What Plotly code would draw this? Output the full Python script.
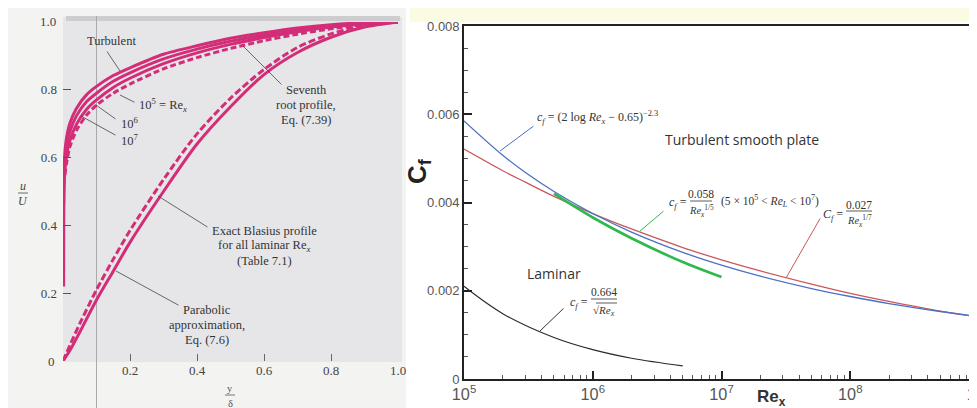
import math
import plotly.graph_objects as go

W, H = 977, 408

# ---------------- Left panel data ----------------
x_turb = [0.002, 0.003, 0.006, 0.01, 0.02, 0.04, 0.07, 0.1, 0.15, 0.2, 0.3, 0.4, 0.5, 0.6, 0.7, 0.8, 0.9, 1.0]
u_re7 = [0.52, 0.56, 0.62, 0.655, 0.70, 0.745, 0.785, 0.81, 0.842, 0.865, 0.905, 0.930, 0.952, 0.968, 0.982, 0.992, 0.998, 1.0]
u_re6 = [0.46, 0.53, 0.595, 0.63, 0.675, 0.723, 0.765, 0.79, 0.825, 0.850, 0.891, 0.920, 0.943, 0.961, 0.976, 0.988, 0.996, 1.0]
u_re5 = [0.22, 0.50, 0.565, 0.60, 0.648, 0.698, 0.742, 0.77, 0.807, 0.834, 0.877, 0.909, 0.934, 0.954, 0.971, 0.985, 0.995, 1.0]
x_7th = [0.006, 0.01, 0.02, 0.04, 0.07, 0.1, 0.15, 0.2, 0.3, 0.4, 0.5, 0.6, 0.7, 0.8, 0.9, 1.0]
u_7th = [0.55, 0.58, 0.63, 0.68, 0.725, 0.755, 0.79, 0.817, 0.862, 0.895, 0.922, 0.945, 0.964, 0.980, 0.992, 1.0]

x_lam = [0.0, 0.02, 0.05, 0.1, 0.15, 0.2, 0.3, 0.4, 0.5, 0.6, 0.7, 0.8, 0.9, 1.0]
u_blasius = [0.0, 0.03, 0.085, 0.18, 0.265, 0.35, 0.50, 0.64, 0.75, 0.845, 0.91, 0.955, 0.985, 1.0]
u_parabolic = [0.0, 0.045, 0.11, 0.21, 0.30, 0.385, 0.535, 0.67, 0.775, 0.86, 0.925, 0.965, 0.99, 1.0]

left_ytick_vals = [0.2, 0.4, 0.6, 0.8]
left_xtick_vals = [0.2, 0.4, 0.6, 0.8]

# ---------------- Right panel data ----------------
re_turb = [1e5, 2e5, 3e5, 5e5, 1e6, 2e6, 5e6, 1e7, 2e7, 5e7, 1e8, 2e8, 5e8, 1e9]
cf_log_law = [0.00585, 0.00507, 0.00468, 0.00425, 0.00375, 0.00333, 0.00287, 0.00258, 0.00233, 0.00205, 0.00187, 0.00171, 0.00153, 0.00141]
cf_seventh = [0.00521, 0.00472, 0.00446, 0.00414, 0.00375, 0.00340, 0.00298, 0.00270, 0.00245, 0.00215, 0.00194, 0.00176, 0.00154, 0.00140]
re_fifth = [5e5, 1e6, 2e6, 5e6, 1e7]
cf_fifth = [0.00420, 0.00366, 0.00319, 0.00265, 0.00231]
re_lam = [1e5, 2e5, 5e5, 1e6, 2e6, 5e6]
cf_lam = [0.00210, 0.00148, 0.00094, 0.000664, 0.00047, 0.000297]

right_ytick_vals = [0, 0.002, 0.004, 0.006, 0.008]
right_ytick_text = ["0", "0.002", "0.004", "0.006", "0.008"]

MAG = "#d42d78"
SERIF = "Liberation Serif"
SANS = "Liberation Sans"
SP = "&nbsp;"


def P(x, y):
    return x / W, 1 - y / H


# pixel -> data helpers for leader-line anchors
def LX(px):
    return (px - 55) / 335.0


def LY(py):
    return (353 - py) / 339.0


def RX(px):
    return 5 + (px - 456) / 128.75


def RY(py):
    return (371 - py) / 44125.0


fig = go.Figure()

# left traces
for u in [u_re7, u_re6, u_re5]:
    fig.add_trace(go.Scatter(x=x_turb, y=u, mode="lines", xaxis="x", yaxis="y",
                             line=dict(color=MAG, width=3, shape="spline", smoothing=0.6),
                             hoverinfo="skip", showlegend=False))
fig.add_trace(go.Scatter(x=x_7th, y=u_7th, mode="lines", xaxis="x", yaxis="y",
                         line=dict(color=MAG, width=3, dash="6px,3px", shape="spline", smoothing=0.6),
                         hoverinfo="skip", showlegend=False))
fig.add_trace(go.Scatter(x=x_lam, y=u_blasius, mode="lines", xaxis="x", yaxis="y",
                         line=dict(color=MAG, width=3, shape="spline", smoothing=0.8),
                         hoverinfo="skip", showlegend=False))
fig.add_trace(go.Scatter(x=x_lam, y=u_parabolic, mode="lines", xaxis="x", yaxis="y",
                         line=dict(color=MAG, width=3, dash="7px,3px", shape="spline", smoothing=0.8),
                         hoverinfo="skip", showlegend=False))

# right traces
fig.add_trace(go.Scatter(x=re_turb, y=cf_seventh, mode="lines", xaxis="x2", yaxis="y2",
                         line=dict(color="#c9585c", width=1.3, shape="spline"), hoverinfo="skip", showlegend=False))
fig.add_trace(go.Scatter(x=re_turb, y=cf_log_law, mode="lines", xaxis="x2", yaxis="y2",
                         line=dict(color="#4a70c4", width=1.3, shape="spline"), hoverinfo="skip", showlegend=False))
fig.add_trace(go.Scatter(x=re_fifth, y=cf_fifth, mode="lines", xaxis="x2", yaxis="y2",
                         line=dict(color="#2fb84c", width=2.6, shape="spline"), hoverinfo="skip", showlegend=False))
fig.add_trace(go.Scatter(x=re_lam, y=cf_lam, mode="lines", xaxis="x2", yaxis="y2",
                         line=dict(color="#2a2a2a", width=1.2, shape="spline"), hoverinfo="skip", showlegend=False))

shapes = []
# left scan background
x0, y0 = P(0, 404)
x1, y1 = P(398, 0)
shapes.append(dict(type="rect", xref="paper", yref="paper", x0=x0, x1=x1, y0=y0, y1=y1,
                   fillcolor="#f3f3f1", line=dict(width=0), layer="below"))
x0, y0 = P(55, 354)
x1, y1 = P(394, 9)
shapes.append(dict(type="rect", xref="paper", yref="paper", x0=x0, x1=x1, y0=y0, y1=y1,
                   fillcolor="#e6e6e9", line=dict(width=0), layer="below"))
x0, y0 = P(58, 13)
x1, y1 = P(392, 8)
shapes.append(dict(type="rect", xref="paper", yref="paper", x0=x0, x1=x1, y0=y0, y1=y1,
                   fillcolor="#cdcdd0", line=dict(width=0), layer="below"))
# faint scan line at x = 0.1
shapes.append(dict(type="line", xref="x", yref="paper", x0=0.1, x1=0.1, y0=P(0, 402)[1], y1=P(0, 8)[1],
                   line=dict(color="#aaaaae", width=1), layer="below"))
# bottom scan edge
shapes.append(dict(type="line", xref="paper", yref="paper", x0=P(8, 0)[0], x1=P(396, 0)[0],
                   y0=P(0, 405)[1], y1=P(0, 405)[1], line=dict(color="#c8c8a8", width=2), layer="below"))
# faint yellow band at top of right picture
x0, y0 = P(402, 14)
x1, y1 = P(977, 0)
shapes.append(dict(type="rect", xref="paper", yref="paper", x0=x0, x1=x1, y0=y0, y1=y1,
                   fillcolor="#fbfbe4", line=dict(width=0), layer="below"))


def hbar(xa, xb, y, color="#333", width=0.8):
    a = P(xa, y)
    b = P(xb, y)
    shapes.append(dict(type="line", xref="paper", yref="paper", x0=a[0], x1=b[0], y0=a[1], y1=b[1],
                       line=dict(color=color, width=width)))


# fraction bars
hbar(10, 20, 185, "#444", 0.8)      # u/U
hbar(217, 227, 387, "#555", 0.8)    # y/delta
hbar(682, 704, 193)                 # 0.058 / Re^1/5
hbar(838, 864, 203)                 # 0.027 / Re^1/7
hbar(583, 609, 291)                 # 0.664 / sqrt(Re)
hbar(588, 609, 295)                 # sqrt overline

ann = []


def txt(px, py, text, size=13, family=SERIF, color="#333", xanchor="center", yanchor="middle", angle=0):
    x, y = P(px, py)
    ann.append(dict(xref="paper", yref="paper", x=x, y=y, text=text, showarrow=False,
                    font=dict(family=family, size=size, color=color), xanchor=xanchor, yanchor=yanchor,
                    textangle=angle, borderpad=0))


def leader(xref, yref, hx, hy, tx, ty, color="#444", width=0.8):
    ann.append(dict(xref=xref, yref=yref, axref=xref, ayref=yref, x=hx, y=hy, ax=tx, ay=ty,
                    text="", showarrow=True, arrowhead=0, arrowwidth=width, arrowcolor=color, standoff=0,
                    startstandoff=0))


FS = 12.5
# ----- left panel texts -----
txt(103, 33, "Turbulent", FS)
leader("x", "y", LX(112), LY(63), LX(98), LY(42))
txt(130, 97, "10<sup>5</sup> = Re<sub><i>x</i></sub>", FS, xanchor="left")
leader("x", "y", LX(112), LY(87), LX(128), LY(95))
txt(112, 115, "10<sup>6</sup>", FS, xanchor="left")
leader("x", "y", LX(88), LY(97), LX(109), LY(112))
txt(112, 132, "10<sup>7</sup>", FS, xanchor="left")
leader("x", "y", LX(73), LY(108), LX(109), LY(128))
txt(298, 82, "Seventh", FS)
txt(298, 97, "root profile,", FS)
txt(298, 112, "Eq. (7.39)", FS)
leader("x", "y", LX(235), LY(38), LX(275), LY(78))
txt(256, 223, "Exact Blasius profile", FS)
txt(256, 238, "for all laminar Re<sub><i>x</i></sub>", FS)
txt(256, 253, "(Table 7.1)", FS)
leader("x", "y", LX(150), LY(188), LX(201), LY(220))
txt(199, 302, "Parabolic", FS)
txt(199, 317, "approximation,", FS)
txt(199, 332, "Eq. (7.6)", FS)
leader("x", "y", LX(108), LY(263), LX(172), LY(298))
txt(48, 353, "0", 13, color="#444", xanchor="right")
txt(49, 13, "1.0", 13, color="#444", xanchor="right")
txt(390, 362, "1.0", 13, color="#444")
txt(15, 178, "<i>u</i>", 12, color="#444")
txt(15, 193, "<i>U</i>", 12, color="#444")
txt(222, 380, "y", 10.5, color="#555")
txt(222, 395, "δ", 10.5, color="#555")

# ----- right panel texts -----
txt(734, 132, "Turbulent smooth plate", 14, family="Open Sans", color="#333")
txt(546, 265, "Laminar", 14, family="Open Sans", color="#333")
txt(528, 110, "<i>c<sub>f</sub></i>" + SP + "=" + SP + "(2" + SP + "log" + SP + "<i>Re<sub>x</sub></i>" + SP + "−" + SP
    + "0.65)<sup>−2.3</sup>", 12, color="#333", xanchor="left")
leader("x2", "y2", RX(492), RY(143), RX(527), RY(117), color="#4a70c4", width=1)

txt(680, 195, "<i>c<sub>f</sub></i>" + SP + "=", 12, xanchor="right")
txt(693, 186, "0.058", 11.5)
txt(693, 203, "<i>Re</i><sub><i>x</i></sub><sup>1/5</sup>", 10.5)
txt(712, 193, "(5 × 10<sup>5</sup> &lt; <i>Re<sub>L</sub></i> &lt; 10<sup>7</sup>)", 11.5, xanchor="left")
leader("x2", "y2", RX(632), RY(223), RX(657), RY(202), color="#2fb84c", width=1)

txt(836, 207, "<i>C<sub>f</sub></i>" + SP + "=", 12, xanchor="right")
txt(851, 197, "0.027", 11.5)
txt(851, 213, "<i>Re</i><sub><i>x</i></sub><sup>1/7</sup>", 10.5)
leader("x2", "y2", RX(778), RY(270), RX(813), RY(209), color="#c9585c", width=1)

txt(581, 295, "<i>c<sub>f</sub></i>" + SP + "=", 12, xanchor="right")
txt(596, 284, "0.664", 11.5)
txt(596, 303, "√<i>Re<sub>x</sub></i>", 11)
leader("x2", "y2", RX(532), RY(323), RX(557), RY(299), color="#333", width=1)

txt(410, 163, "<b>C<sub>f</sub></b>", 26, family=SANS, color="#222", angle=-90)
txt(763, 390, "<b>Re<sub>x</sub></b>", 17, family=SANS, color="#333")

LXD = [55 / W, 390 / W]
LYD = [1 - 353 / H, 1 - 14 / H]
RXD = [456 / W, 971 / W]
RYD = [1 - 371 / H, 1 - 18 / H]

fig.update_layout(
    width=W, height=H, margin=dict(l=0, r=0, t=0, b=0, autoexpand=False),
    paper_bgcolor="white", plot_bgcolor="rgba(0,0,0,0)",
    showlegend=False, shapes=shapes, annotations=ann,
    xaxis=dict(domain=LXD, range=[0, 1], anchor="y", automargin=False, showgrid=False, zeroline=False,
               showline=False, tickvals=left_xtick_vals, ticktext=["0.2", "0.4", "0.6", "0.8"],
               ticks="inside", ticklen=7, tickwidth=1, tickcolor="#666",
               tickfont=dict(family=SERIF, size=13, color="#444")),
    yaxis=dict(domain=LYD, range=[0, 1], anchor="x", automargin=False, showgrid=False, zeroline=False,
               showline=False, tickvals=left_ytick_vals, ticktext=["0.2", "0.4", "0.6", "0.8"],
               ticks="inside", ticklen=8, tickwidth=1, tickcolor="#555", ticklabelstandoff=5,
               tickfont=dict(family=SERIF, size=13, color="#444")),
    xaxis2=dict(domain=RXD, type="log", range=[5, 9], anchor="y2", dtick=1, exponentformat="power",
                automargin=False, ticklabeloverflow="allow",
                showgrid=False, zeroline=False, showline=True, linecolor="#222", linewidth=1.6, mirror=True,
                ticks="inside", ticklen=8, tickwidth=1.5, tickcolor="#222",
                minor=dict(ticks="inside", ticklen=4, tickwidth=1, tickcolor="#555", showgrid=False),
                tickfont=dict(family=SANS, size=13, color="#555")),
    yaxis2=dict(domain=RYD, range=[0, 0.008], anchor="x2", tickvals=right_ytick_vals, ticktext=right_ytick_text,
                automargin=False, ticklabeloverflow="allow",
                showgrid=False, zeroline=False, showline=True, linecolor="#222", linewidth=1.6, mirror=True,
                ticks="inside", ticklen=8, tickwidth=1.5, tickcolor="#222",
                minor=dict(ticks="inside", ticklen=4, tickwidth=1, tickcolor="#555", dtick=0.0005, showgrid=False),
                tickfont=dict(family=SANS, size=13, color="#555")),
)

fig.write_html("out.html")
